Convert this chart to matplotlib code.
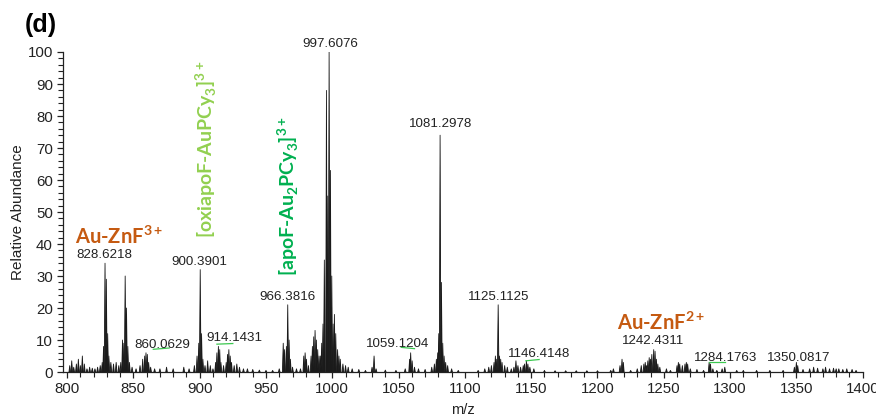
import matplotlib
matplotlib.use('Agg')
import matplotlib.pyplot as plt
from matplotlib.collections import PolyCollection
from matplotlib.ticker import MultipleLocator
import numpy as np

plt.rcParams['font.family'] = ['Liberation Sans', 'DejaVu Sans']
plt.rcParams['mathtext.fontset'] = 'custom'
plt.rcParams['mathtext.rm'] = 'Lato'
plt.rcParams['mathtext.bf'] = 'Lato:bold'

# peak list (m/z, relative abundance)
peak_mz = [802, 803.5, 805, 807, 808.5, 810, 811.5, 813, 815, 817, 819, 821, 823, 825, 826.5, 827.5,
           828.6, 829.6, 830.6, 831.5, 833, 835, 837, 839, 840.5, 841.8, 842.8, 843.8, 844.8, 845.8,
           847, 849, 852, 855, 857, 858.5, 859.5, 860.5, 861.5, 863, 866, 870, 875, 880, 888, 892,
           896, 898, 899.3, 900.4, 901.4, 902.4, 904, 906, 908, 910, 912, 913, 914.1, 915.1, 916,
           918, 920, 921, 922, 923, 924, 926, 928, 930, 933, 936, 940, 945, 950, 955, 960, 963, 964,
           965.4, 966.4, 967.4, 968.4, 970, 973, 976, 978.5, 979.5, 980.5, 982, 984, 985, 986, 987,
           988, 989, 990, 991, 992, 993, 994, 995.6, 996.6, 997.6, 998.6, 999.6, 1000.6, 1001.6,
           1002.6, 1004, 1005, 1006, 1008, 1010, 1012, 1015, 1020, 1025, 1030, 1031.5, 1033, 1040,
           1048, 1055, 1058.3, 1059.1, 1060.2, 1062, 1065, 1070, 1075, 1077, 1078.5, 1079.5, 1080.3,
           1081.3, 1082.3, 1083.3, 1084.3, 1085.5, 1087, 1090, 1095, 1110, 1115, 1118, 1120, 1122,
           1123, 1124, 1125.1, 1126.1, 1127, 1128, 1130, 1132, 1135, 1137, 1138.5, 1140, 1142, 1144,
           1145, 1146.4, 1147.5, 1149, 1152, 1160, 1168, 1176, 1184, 1192, 1200, 1210, 1212, 1217,
           1218.5, 1219.5, 1225, 1230, 1233, 1235, 1236, 1237, 1238, 1239, 1240, 1241, 1242.4,
           1243.4, 1244.4, 1245.5, 1247, 1252, 1255, 1260, 1261, 1262, 1264, 1266, 1267, 1268, 1270,
           1275, 1280, 1284.2, 1285.2, 1287, 1290, 1294, 1296, 1305, 1310, 1320, 1330, 1340, 1348.5,
           1350, 1351, 1355, 1360, 1363, 1366, 1370, 1372, 1375, 1378, 1380, 1382, 1385, 1388, 1392,
           1395]
peak_int = [2, 3.5, 1.5, 2.5, 4, 2, 5, 2.5, 1, 1.5, 1.2, 1, 1.5, 2, 3, 8,
            34, 29, 12, 5, 3, 2.5, 3, 2, 3, 10, 9, 30, 20, 8,
            3, 1.5, 1, 2, 4, 5, 6, 5.5, 3, 1.5, 1, 1, 1.5, 1, 1.5, 1,
            2, 5, 9, 32, 12, 4, 2, 3.5, 2, 1, 3, 6, 8, 7, 3,
            2, 3, 5.5, 7, 5, 3, 2, 2.5, 1.5, 1, 1, 0.8, 0.6, 0.5, 0.5, 1, 9, 7,
            8, 21, 10, 4, 1.5, 1, 1, 5, 6, 4, 2, 5, 8, 11, 13,
            10, 7, 5, 5, 9, 15, 35, 88, 55, 100, 63, 30, 15, 18,
            12, 7, 5, 4, 2.5, 2, 1.5, 1, 0.8, 0.5, 1.5, 5, 1, 0.6,
            0.5, 1, 4, 6, 3.5, 1.5, 1, 0.8, 1.5, 2.5, 4, 6, 12,
            74, 28, 9, 5, 3, 2, 1, 0.5, 0.5, 1, 1.5, 2, 3,
            5, 4, 21, 5, 4, 3, 2, 1.5, 1, 1.5, 3.5, 2, 1.5, 2,
            2.5, 3.5, 2.5, 1.5, 1, 0.5, 0.4, 0.4, 0.4, 0.4, 0.4, 0.5, 1, 2,
            4, 3, 0.5, 1, 2, 2.5, 3, 2, 3.5, 4.5, 4, 5.5, 7,
            6.5, 4, 2.5, 1.5, 1, 0.5, 2, 3, 2.5, 2, 2.5, 3, 2.5, 1,
            0.8, 0.5, 3, 2.5, 1, 0.5, 1, 1.5, 0.5, 0.5, 0.5, 0.5, 0.5, 1.5,
            3, 2, 0.8, 1, 1.5, 1.2, 1, 1.5, 1, 1.2, 1, 1, 0.8, 1, 0.8,
            0.5]

# labelled peaks: text, label x, label y (baseline)
label_txt = ['828.6218', '900.3901', '860.0629', '914.1431', '966.3816', '997.6076',
             '1059.1204', '1081.2978', '1125.1125', '1146.4148', '1242.4311', '1284.1763',
             '1350.0817']
label_x = [828.3, 899.6, 871.5, 925.8, 966.0, 998.5, 1049.6, 1081.5, 1125.3, 1156.0,
           1241.9, 1296.6, 1352.0]
label_y = [35.6, 33.4, 7.6, 9.8, 22.5, 101.5, 7.9, 76.5, 22.5, 4.7, 8.75, 3.5, 3.5]

# small green underline marks under some labels: x0, x1, y0, y1
mark_x0 = [865, 913, 1052, 1146, 1284]
mark_x1 = [877, 925, 1062, 1156, 1296]
mark_y0 = [7.1, 8.7, 7.7, 3.5, 3.1]
mark_y1 = [7.5, 8.9, 7.3, 3.9, 3.1]

orange = '#C55A11'
light_green = '#92D050'
dark_green = '#00B050'

fig = plt.figure(figsize=(8.76, 4.15), dpi=100)
ax = fig.add_axes([0.0716, 0.1036, 0.9132, 0.7711])

hw = 0.6
tris = [[(m - hw, 0), (m, h), (m + hw, 0)] for m, h in zip(peak_mz, peak_int)]
pc = PolyCollection(tris, facecolors='#1a1a1a', edgecolors='#1a1a1a', linewidths=0.6)
ax.add_collection(pc)

for t, x, y in zip(label_txt, label_x, label_y):
    ax.text(x, y, t, ha='center', va='baseline', fontsize=9.6, color='#222222', clip_on=False)

for x0, x1, y0, y1 in zip(mark_x0, mark_x1, mark_y0, mark_y1):
    ax.plot([x0, x1], [y0, y1], color='#3CC850', lw=0.9)

ax.text(806, 40, r'Au-ZnF$^{\mathbf{3+}}$', family='Lato', fontweight='bold', fontsize=14.5,
        color=orange, ha='left', va='baseline')
ax.text(1215, 13, r'Au-ZnF$^{\mathbf{2+}}$', family='Lato', fontweight='bold', fontsize=14.5,
        color=orange, ha='left', va='baseline')
ax.text(905, 42, r'[oxiapoF-AuPCy$_\mathbf{3}$]$^\mathbf{3+}$', family='Lato', fontweight='bold',
        fontsize=14, color=light_green, rotation=90, ha='left', va='center',
        rotation_mode='anchor')
ax.text(967, 30, r'[apoF-Au$_\mathbf{2}$PCy$_\mathbf{3}$]$^\mathbf{3+}$', family='Lato',
        fontweight='bold', fontsize=14, color=dark_green, rotation=90, ha='left', va='center',
        rotation_mode='anchor')

ax.set_xlim(796.7, 1400)
ax.set_ylim(0, 100)
ax.xaxis.set_major_locator(MultipleLocator(50))
ax.xaxis.set_minor_locator(MultipleLocator(10))
ax.yaxis.set_major_locator(MultipleLocator(10))
ax.yaxis.set_minor_locator(MultipleLocator(2))
ax.tick_params(which='major', length=4.5, width=0.9, labelsize=10.8, pad=2.5, colors='#222222')
ax.tick_params(which='minor', length=3.5, width=0.8, colors='#222222')
for s in ['top', 'right']:
    ax.spines[s].set_visible(False)
for s in ['left', 'bottom']:
    ax.spines[s].set_linewidth(0.9)
    ax.spines[s].set_color('#222222')

ax.set_ylabel('Relative Abundance', fontsize=11, color='#222222', labelpad=2)
ax.set_xlabel('m/z', fontsize=10.5, color='#222222', labelpad=5)

fig.text(0.0285, 0.94, '(d)', fontsize=18, fontweight='bold', ha='left', va='center')

fig.savefig('out.png', dpi=100)
